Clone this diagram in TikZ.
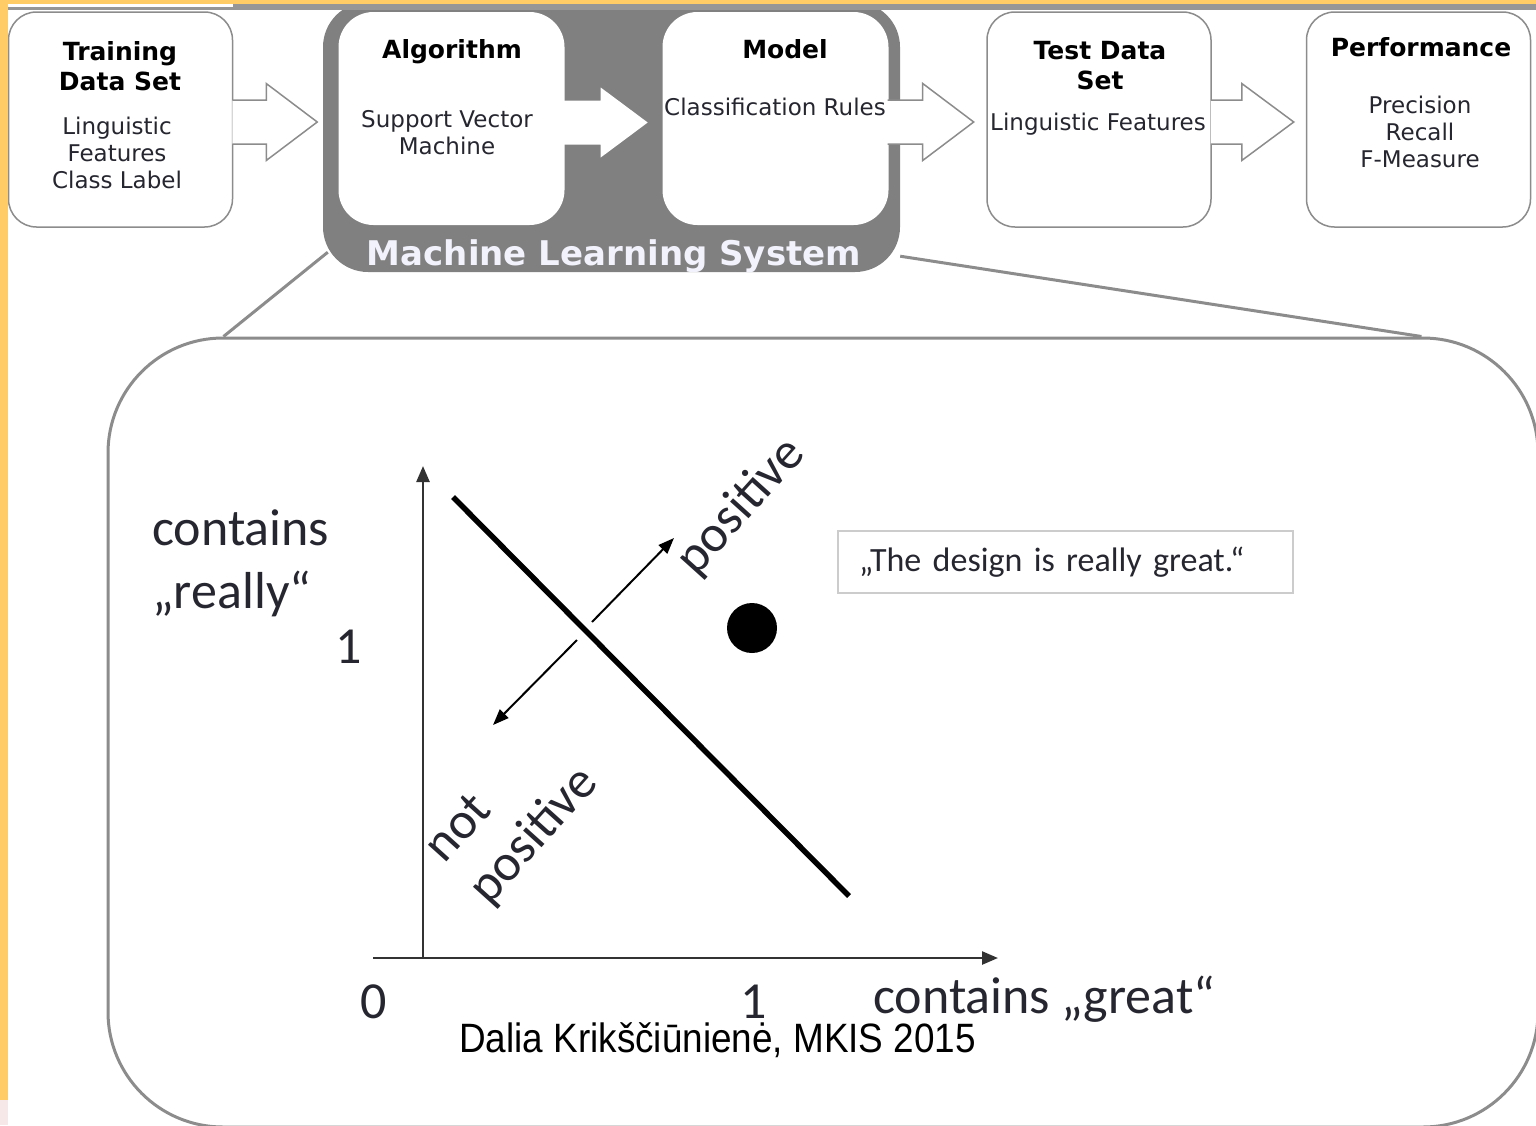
\documentclass[tikz,border=0pt]{standalone}
\usepackage{fontspec}
\setmainfont{DejaVu Sans}
\newfontfamily\slidefont{Carlito}
\newfontfamily\footfont{Liberation Sans}
\usetikzlibrary{arrows.meta}
\definecolor{slideyellow}{RGB}{255,204,102}
\definecolor{slidepink}{RGB}{246,232,232}
\definecolor{topgray}{RGB}{150,150,150}
\definecolor{boxgray}{RGB}{140,140,140}
\definecolor{mlgray}{RGB}{128,128,128}
\definecolor{textgray}{RGB}{38,38,48}

\begin{document}
\begin{tikzpicture}[x=1pt,y=1pt,>={Triangle[length=16pt,width=13pt]}]

%
% Styles
%
\tikzstyle{stage} = [rectangle,rounded corners=28pt,draw=boxgray,line width=1.5pt,fill=white,minimum width=224pt,minimum height=215pt,inner sep=0pt]
\tikzstyle{inner} = [rectangle,rounded corners=35pt,fill=white,minimum width=226pt,minimum height=213pt,inner sep=0pt]
\tikzstyle{mlbox} = [rectangle,rounded corners=45pt,fill=mlgray,minimum width=577pt,minimum height=270pt,inner sep=0pt]
\tikzstyle{zoombox} = [rectangle,rounded corners=115pt,draw=boxgray,line width=3pt,minimum width=1430pt,minimum height=789pt,inner sep=0pt]
\tikzstyle{title} = [font=\bfseries\fontsize{25}{30}\selectfont,align=center,anchor=base,inner sep=0pt]
\tikzstyle{body} = [font=\fontsize{23}{27}\selectfont,text=textgray,align=center,anchor=base,inner sep=0pt]
\tikzstyle{mltitle} = [font=\bfseries\fontsize{34}{40}\selectfont,text={rgb,255:red,242;green,242;blue,252},anchor=base,inner sep=0pt]
\tikzstyle{hollow} = [draw=boxgray,line width=1.5pt,fill=white,line join=miter]
\tikzstyle{zoomline} = [draw=boxgray,line width=3pt]
\tikzstyle{axis} = [draw={rgb,255:red,50;green,50;blue,50},line width=2.5pt]
\tikzstyle{boundary} = [draw=black,line width=5.5pt]
\tikzstyle{normal} = [draw=black,line width=2pt,>={Triangle[length=16pt,width=12pt]}]
\tikzstyle{plotlbl} = [font=\slidefont\fontsize{52}{63}\selectfont,text=textgray,inner sep=0pt]
\tikzstyle{quote} = [rectangle,draw={rgb,255:red,204;green,204;blue,204},line width=2pt,minimum height=62pt,text width=413pt,inner xsep=21pt,align=left,font=\slidefont\fontsize{34}{40}\selectfont,text=textgray]
\tikzstyle{dot} = [circle,fill=black,minimum size=50pt,inner sep=0pt]

\useasboundingbox (0,0) rectangle (1536,-1125);

% zoomed view
\node[zoombox] (zoom) at (823,-732.5) {};

% pipeline
\node[stage] (train) at (120.5,-119.5) {};
\node[mlbox] (mlsys) at (611.5,-137) {};
\node[inner] (algo) at (451.5,-118.5) {};
\node[inner] (model) at (775.5,-118.5) {};
\node[stage] (test) at (1099,-119.5) {};
\node[stage] (perf) at (1418.5,-119.5) {};

\draw[zoomline] ([xshift=5pt,yshift=20pt]mlsys.south west) -- ([xshift=117pt]zoom.north west);
\draw[zoomline] ([yshift=16pt]mlsys.south east) -- ([xshift=-118pt]zoom.north east);

\fill[white] (algo.east) ++(-2,18) -- ++(38,0) -- ++(0,13) -- ++(47,-35) -- ++(-47,-35) -- ++(0,13) -- ++(-38,0) -- cycle;
\path[hollow] (train.east) ++(-1,19.5) -- ++(34,0) -- ++(0,16.5) -- ++(51,-38.5) -- ++(-51,-38.5) -- ++(0,16.5) -- ++(-34,0);
\path[hollow] (model.east) ++(-1,18.5) -- ++(35,0) -- ++(0,16.5) -- ++(51,-38.5) -- ++(-51,-38.5) -- ++(0,16.5) -- ++(-35,0);
\path[hollow] (test.east) ++(-1,19.5) -- ++(31,0) -- ++(0,16.5) -- ++(52,-38.5) -- ++(-52,-38.5) -- ++(0,16.5) -- ++(-31,0);

% multi-line texts sit on their last baseline
\node[title] (traint) at (120,-90) {Training\\Data Set};
\node[body] (trainb) at (117,-188) {Linguistic\\Features\\Class Label};
\node[title] (algot) at (452,-58) {Algorithm};
\node[body] (algob) at (447,-154) {Support Vector\\Machine};
\node[title] (modelt) at (785,-58) {Model};
\node[body] (modelb) at (775,-115) {Classification Rules};
\node[title] (testt) at (1100,-89) {Test Data\\Set};
\node[body] (testb) at (1098,-130) {Linguistic Features};
\node[title] (perft) at (1421,-56) {Performance};
\node[body] (perfb) at (1420,-167) {Precision\\Recall\\F-Measure};
\node[mltitle] (mlt) at (614,-265) {Machine Learning System};

% feature space
\coordinate (o) at (423,-958);
\coordinate (ytop) at (423,-466);
\coordinate (xl) at (373,-958);
\coordinate (xr) at (998,-958);
\coordinate (bA) at (453,-497);
\coordinate (bB) at (849,-896);
\coordinate (upA) at (592,-622);
\coordinate (upB) at (674,-538);
\coordinate (dnA) at (577,-640);
\coordinate (dnB) at (493,-725);

\draw[axis,->] (o) -- (ytop);
\draw[axis,->] (xl) -- (xr);
\draw[boundary] (bA) -- (bB);
\draw[normal,->] (upA) -- (upB);
\draw[normal,->] (dnA) -- (dnB);
\node[dot] (pt) at (752,-628) {};

\node[plotlbl,rotate=48] (pos) at (741,-507) {positive};
\node[plotlbl,rotate=48] (nt) at (457,-827) {not};
\node[plotlbl,rotate=48] (notpos) at (534,-836) {positive};
\node[plotlbl,anchor=base west,align=left] (ylbl) at (152,-608) {contains\\„really“};
\node[plotlbl,anchor=base] (y1) at (349,-663) {1};
\node[plotlbl,anchor=base] (x0) at (374,-1018) {0};
\node[plotlbl,anchor=base] (x1) at (754,-1018) {1};
\node[plotlbl,anchor=base west] (xlbl) at (873,-1013) {contains „great“};
\node[quote] (sent) at (1065.5,-562) {„The design is really great.“};
\node[font=\footfont\fontsize{41}{48}\selectfont,xscale=0.9,anchor=base west,inner sep=0pt] (credit) at (459,-1052) {Dalia Krikščiūnienė, MKIS 2015};

% slide frame
\fill[slideyellow] (0,0) rectangle (1536,-4);
\fill[slideyellow] (0,0) rectangle (8,-1100);
\fill[slidepink] (0,-1100) rectangle (8,-1125);
\fill[topgray] (8,-4) rectangle (1536,-10);
\fill[white] (8,-4) rectangle (233,-7);

\end{tikzpicture}
\end{document}
